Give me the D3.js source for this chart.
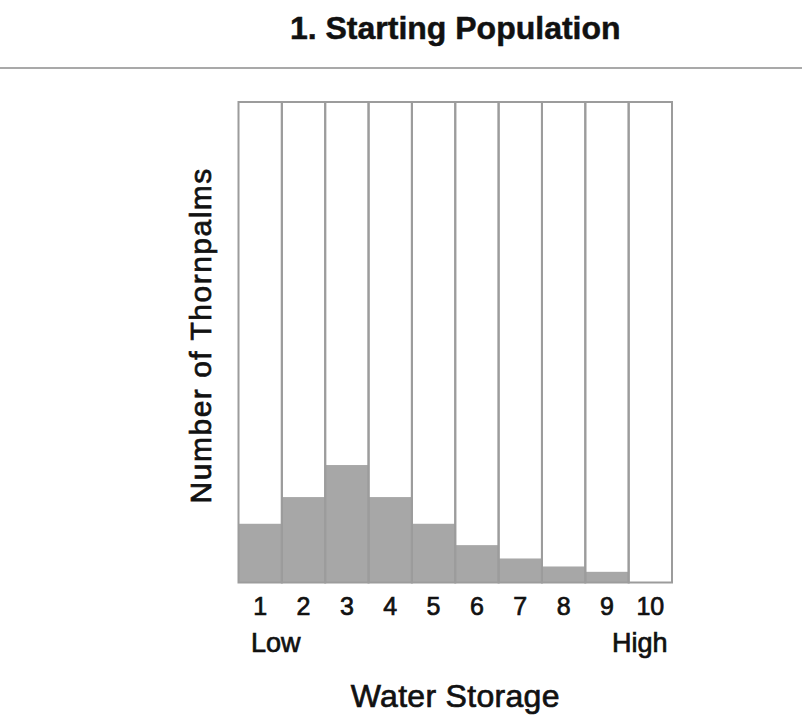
<!DOCTYPE html>
<html>
<head>
<meta charset="utf-8">
<script src="https://cdn.jsdelivr.net/npm/d3@7"></script>
<style>
  body { margin: 0; background: #fff; }
  text { font-family: "Liberation Sans", Arial, sans-serif; fill: #111; }
  .med { stroke: #111; stroke-width: 0.7px; }
</style>
</head>
<body>
<svg width="802" height="720"></svg>
<script>
// water storage classes and starting counts
const storageLevels = ["1", "2", "3", "4", "5", "6", "7", "8", "9", "10"];
const thornpalmCounts = [11, 16, 22, 16, 11, 7, 4.5, 3, 2, 0];
const yMax = 90;
const endLabels = ["Low", "High"];

const width = 802, height = 720;
const margin = {top: 102, right: 130, bottom: 137.5, left: 238.5};
const plotWidth = width - margin.left - margin.right,
      plotHeight = height - margin.top - margin.bottom;

const data = storageLevels.map((d, i) => ({level: d, count: thornpalmCounts[i]}));

const svg = d3.select("svg");

// title + rule
svg.append("text")
  .attr("x", margin.left + plotWidth / 2)
  .attr("y", 38.5)
  .attr("text-anchor", "middle")
  .attr("font-size", "32px")
  .attr("font-weight", "bold")
  .attr("stroke", "#111")
  .attr("stroke-width", 0.5)
  .text("1. Starting Population");

svg.append("line")
  .attr("x1", 0).attr("x2", width)
  .attr("y1", 68).attr("y2", 68)
  .attr("stroke", "#a9a9a9")
  .attr("stroke-width", 2);

const g = svg.append("g")
  .attr("transform", `translate(${margin.left}, ${margin.top})`);

const x = d3.scaleBand()
  .domain(storageLevels)
  .range([0, plotWidth])
  .padding(0);

const y = d3.scaleLinear()
  .domain([0, yMax])
  .range([plotHeight, 0]);

// bars
g.selectAll("rect.bar").data(data)
  .enter().append("rect")
  .attr("class", "bar")
  .attr("x", d => x(d.level))
  .attr("y", d => y(d.count))
  .attr("width", x.bandwidth())
  .attr("height", d => plotHeight - y(d.count))
  .attr("fill", "#a7a7a7");

// column outlines drawn on top
g.selectAll("rect.col").data(data)
  .enter().append("rect")
  .attr("class", "col")
  .attr("x", d => x(d.level))
  .attr("y", 0)
  .attr("width", x.bandwidth())
  .attr("height", plotHeight)
  .attr("fill", "none")
  .attr("stroke", "#9c9c9c")
  .attr("stroke-width", 2);

// x ticks
const xAxis = g.append("g")
  .attr("transform", `translate(0, ${plotHeight})`)
  .call(d3.axisBottom(x).tickSize(0).tickPadding(0));
xAxis.select(".domain").remove();
xAxis.selectAll("text")
  .attr("class", "med")
  .attr("y", 32.5)
  .attr("dy", 0)
  .attr("font-size", "25px")
  .attr("font-family", "Liberation Sans, Arial, sans-serif")
  .attr("fill", "#111");

// Low / High
g.append("text")
  .attr("class", "med")
  .attr("x", 12.5)
  .attr("y", plotHeight + 69.5)
  .attr("font-size", "27px")
  .text(endLabels[0]);

g.append("text")
  .attr("class", "med")
  .attr("x", plotWidth - 4.5)
  .attr("y", plotHeight + 69.5)
  .attr("text-anchor", "end")
  .attr("font-size", "27px")
  .text(endLabels[1]);

// X label
g.append("text")
  .attr("class", "med")
  .attr("x", plotWidth / 2)
  .attr("y", plotHeight + 124)
  .attr("text-anchor", "middle")
  .attr("font-size", "32px")
  .attr("letter-spacing", "0.3px")
  .text("Water Storage");

// Y label
g.append("text")
  .attr("class", "med")
  .attr("transform", "rotate(-90)")
  .attr("x", -(plotHeight / 2) + 7)
  .attr("y", -27.5)
  .attr("text-anchor", "middle")
  .attr("font-size", "30px")
  .attr("letter-spacing", "1.5px")
  .text("Number of Thornpalms");
</script>
</body>
</html>
